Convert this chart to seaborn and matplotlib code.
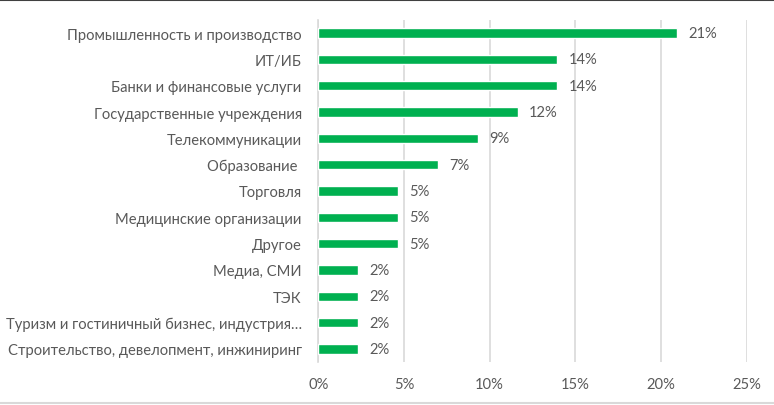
import matplotlib
matplotlib.use("Agg")
import matplotlib.pyplot as plt
import seaborn as sns
import pandas as pd
from matplotlib.lines import Line2D

categories = [
    "Промышленность и производство",
    "ИТ/ИБ",
    "Банки и финансовые услуги",
    "Государственные учреждения",
    "Телекоммуникации",
    "Образование ",
    "Торговля",
    "Медицинские организации",
    "Другое",
    "Медиа, СМИ",
    "ТЭК",
    "Туризм и гостиничный бизнес, индустрия…",
    "Строительство, девелопмент, инжиниринг",
]
values = [20.93, 13.95, 13.95, 11.63, 9.30, 6.98, 4.65, 4.65, 4.65, 2.33, 2.33, 2.33, 2.33]
xticks = [0, 5, 10, 15, 20, 25]

sns.set_theme(style="white")
plt.rcParams["font.family"] = ["Lato", "DejaVu Sans"]

TEXT = "#595959"
GRID = "#D9D9D9"
GREEN = "#00B050"
FS = 10.6

df = pd.DataFrame({"cat": categories, "val": values})

fig = plt.figure(figsize=(7.74, 4.06), dpi=100)
ax = fig.add_axes([318.3 / 774, 43 / 406, (746.8 - 318.3) / 774, (363 - 21) / 406])

sns.barplot(data=df, y="cat", x="val", orient="h", color=GREEN, width=0.355,
            saturation=1, ax=ax, zorder=3)

ax.set_xlim(0, 25)
ax.set_xticks(xticks)
ax.set_xticklabels([f"{t}%" for t in xticks])
ax.set_xlabel("")
ax.set_ylabel("")
ax.grid(axis="x", color=GRID, linewidth=1.2, zorder=0)
ax.grid(axis="y", visible=False)
for s in ["top", "right", "bottom"]:
    ax.spines[s].set_visible(False)
ax.spines["left"].set_color(GRID)
ax.spines["left"].set_linewidth(1.2)
ax.tick_params(axis="both", length=0, colors=TEXT, labelsize=FS)
ax.tick_params(axis="y", pad=12)
ax.tick_params(axis="x", pad=10.5)

for i, v in enumerate(values):
    ax.annotate(f"{v:.0f}%", xy=(v, i), xytext=(8, 0), textcoords="offset points",
                va="center", ha="left", color=TEXT, fontsize=FS)

fig.add_artist(Line2D([0, 1], [1 - 0.5 / 406, 1 - 0.5 / 406], transform=fig.transFigure,
                      color="#404040", linewidth=1.5))
fig.add_artist(Line2D([0, 1], [2 / 406, 2 / 406], transform=fig.transFigure,
                      color=GRID, linewidth=1.5))

fig.savefig("out.png", dpi=100, facecolor="white")
